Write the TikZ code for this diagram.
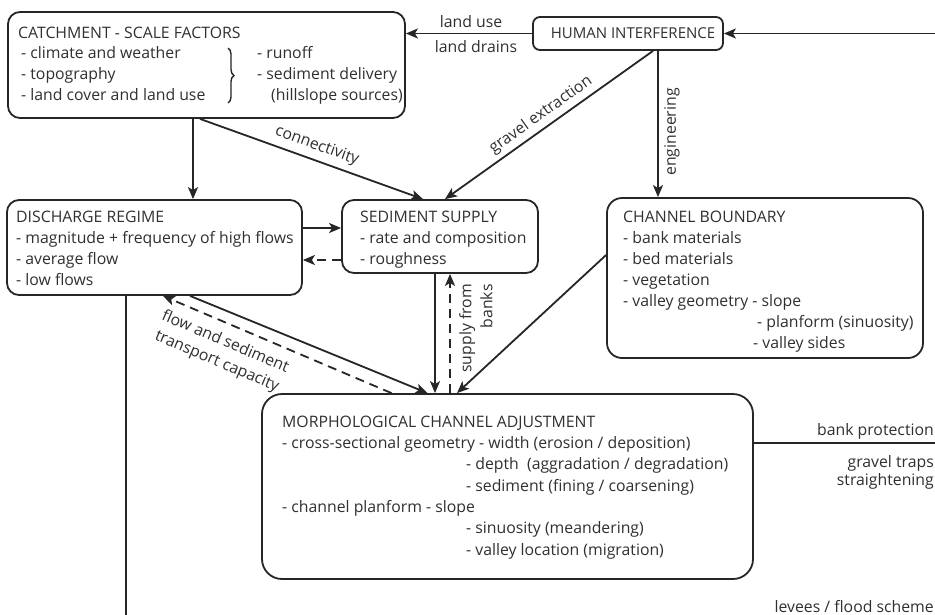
\documentclass[tikz,border=0pt]{standalone}
\usepackage{fontspec}
\setmainfont{Open Sans}
\usetikzlibrary{arrows.meta,decorations.pathreplacing}
\definecolor{ink}{HTML}{262626}
\definecolor{txtc}{HTML}{303030}
\begin{document}
\begin{tikzpicture}[x=1pt,y=-1pt,
  box/.style={draw=ink,line width=1.8pt,rounded corners=12pt,inner sep=0pt},
  lbl/.style={text=txtc,font=\fontsize{15.8}{21}\selectfont,inner sep=0pt},
  ln/.style={lbl,anchor=base west},
  conn/.style={draw=ink,line width=1.8pt},
  arr/.style={conn,-{Stealth[length=12pt,width=10pt,inset=3pt]}},
  dsh/.style={dash pattern=on 9pt off 6pt}]
\useasboundingbox[fill=white] (0,0) rectangle (935,614);

% boxes
\node[box,minimum width=397pt,minimum height=106pt] (catch) at (206.5,65) {};
\node[box,rounded corners=7pt,minimum width=190pt,minimum height=33pt] (human) at (628,33.5) {};
\node[box,minimum width=295pt,minimum height=95pt] (disch) at (154.5,247.5) {};
\node[box,minimum width=196pt,minimum height=73pt] (sed) at (440,236.5) {};
\node[box,rounded corners=15pt,minimum width=316pt,minimum height=160pt] (cb) at (765,278) {};
\node[box,rounded corners=20pt,minimum width=491pt,minimum height=185pt] (morph) at (507.5,486.5) {};

% box texts
\node[lbl,anchor=base,font=\fontsize{15}{21}\selectfont] (thum) at (633,38) {HUMAN INTERFERENCE};

\node[ln] (tc0) at (18,38) {CATCHMENT - SCALE FACTORS};
\node[ln] (tc1) at (21,58) {- climate and weather};
\node[ln] (tc2) at (21,79) {- topography};
\node[ln] (tc3) at (21,100) {- land cover and land use};
\node[ln] (tc4) at (257,58) {- runoff};
\node[ln] (tc5) at (257,79) {- sediment delivery};
\node[ln] (tc6) at (271,100) {(hillslope sources)};
\draw[ink,line width=1.4pt,decorate,decoration={brace,amplitude=6pt}] (228,48) -- (228,103);

\node[ln] (td0) at (16,222) {DISCHARGE REGIME};
\node[ln] (td1) at (16,243) {- magnitude + frequency of high flows};
\node[ln] (td2) at (16,264) {- average flow};
\node[ln] (td3) at (16,285) {- low flows};

\node[ln] (ts0) at (360,222) {SEDIMENT SUPPLY};
\node[ln] (ts1) at (360,243) {- rate and composition};
\node[ln] (ts2) at (360,264) {- roughness};

\node[ln] (tb0) at (623,222) {CHANNEL BOUNDARY};
\node[ln] (tb1) at (623,243) {- bank materials};
\node[ln] (tb2) at (623,264) {- bed materials};
\node[ln] (tb3) at (623,285) {- vegetation};
\node[ln] (tb4) at (623,306) {- valley geometry - slope};
\node[ln] (tb5) at (757,327) {- planform (sinuosity)};
\node[ln] (tb6) at (753,348) {- valley sides};

\node[ln] (tm0) at (282,427) {MORPHOLOGICAL CHANNEL ADJUSTMENT};
\node[ln] (tm1) at (282,448) {- cross-sectional geometry - width (erosion / deposition)};
\node[ln] (tm2) at (466,469) {- depth\ \ (aggradation / degradation)};
\node[ln] (tm3) at (466,491) {- sediment (fining / coarsening)};
\node[ln] (tm4) at (282,512) {- channel planform - slope};
\node[ln] (tm5) at (466,533) {- sinuosity (meandering)};
\node[ln] (tm6) at (466,555) {- valley location (migration)};

% connectors
\coordinate (rin) at (945,33.5);
\draw[arr] (rin) -- (human.east);
\draw[arr] (human.west) -- (human.west -| catch.east);
\node[lbl] (lu) at (471,22) {land use};
\node[lbl] (ld) at (476,47) {land drains};

\draw[arr] ([xshift=-13.5pt]catch.south) -- ([xshift=-13.5pt]catch.south |- disch.north);
\draw[arr] ([xshift=-6.5pt]catch.south) -- ([xshift=-17pt]sed.north);
\node[lbl,rotate=-20] (lcon) at (317,146) {connectivity};

\draw[arr] ([xshift=25pt]human.south) -- ([xshift=5pt]sed.north);
\node[lbl,rotate=35.5] (lgra) at (541,115) {gravel extraction};

\draw[arr] ([xshift=30pt]human.south) -- ([xshift=30pt]human.south |- cb.north);
\node[lbl,rotate=90] (leng) at (672,132) {engineering};

\coordinate (ds0) at ([yshift=19.5pt]disch.east);
\coordinate (ds1) at ([yshift=-12.5pt]disch.east);
\draw[arr] (ds0) -- (ds0 -| sed.west);
\draw[arr,dsh] (ds1 -| sed.west) -- (ds1);

\coordinate (sm0) at ([xshift=-5pt]sed.south);
\coordinate (sm1) at ([xshift=10pt]sed.south);
\draw[arr] (sm0) -- (sm0 |- morph.north);
\draw[arr,dsh] (sm1 |- morph.north) -- (sm1);
\node[lbl,rotate=90,align=right,anchor=east] (lsup) at (476,284) {supply from\\banks};

\draw[arr] ([yshift=23pt]cb.west) -- ([xshift=-50.5pt]morph.north);

\draw[arr] ([xshift=35.5pt]disch.south) -- ([xshift=-80pt]morph.north);
\draw[arr,dsh] ([xshift=-116pt]morph.north) -- ([xshift=8.5pt]disch.south);
\node[lbl,rotate=-23,align=center] (lflo) at (221,352) {flow and sediment\\transport capacity};

\coordinate (vdown) at (126,620);
\draw[conn] ([xshift=-28.5pt]disch.south) -- (vdown);

\coordinate (rout) at (945,443);
\draw[conn] ([yshift=43.5pt]morph.east) -- (rout);
\node[lbl,anchor=base east] (lbp) at (934,435) {bank protection};
\node[lbl,anchor=base east] (lgt) at (934,467) {gravel traps};
\node[lbl,anchor=base east] (lst) at (934,485) {straightening};
\node[lbl,anchor=base east] (llv) at (934,612) {levees / flood scheme};
\end{tikzpicture}
\end{document}
